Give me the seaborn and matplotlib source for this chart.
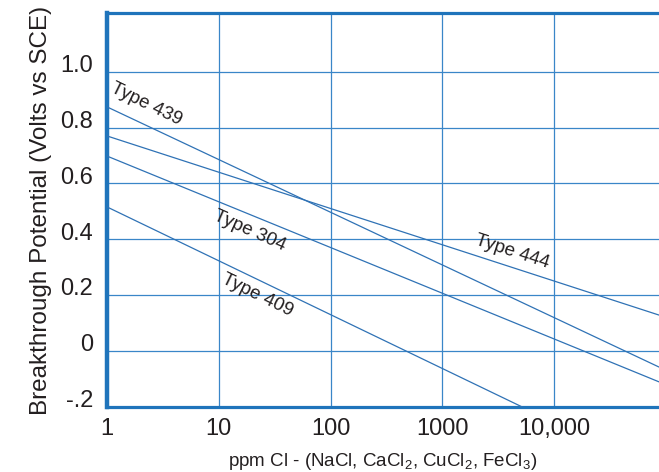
import pandas as pd
import numpy as np
import matplotlib.pyplot as plt
import matplotlib.transforms as mtransforms
import seaborn as sns

sns.set_theme(style='white')
plt.rcParams['font.family'] = ['Liberation Sans', 'DejaVu Sans']
plt.rcParams['mathtext.fontset'] = 'custom'
plt.rcParams['mathtext.rm'] = 'Liberation Sans'
plt.rcParams['mathtext.default'] = 'regular'

# values (ppm chloride vs breakthrough potential)
ppm_439 = [1, 87000]
volts_439 = [0.874, -0.057]
ppm_444 = [1, 87000]
volts_444 = [0.770, 0.129]
ppm_304 = [1, 87000]
volts_304 = [0.698, -0.110]
ppm_409 = [1, 5200]
volts_409 = [0.516, -0.200]

x_ticks = [1, 10, 100, 1000, 10000]
x_labels = ['1', '10', '100', '1000', '10,000']
y_ticks = [-0.2, 0, 0.2, 0.4, 0.6, 0.8, 1.0]
y_labels = ['-.2', '0', '0.2', '0.4', '0.6', '0.8', '1.0']

blue = '#1f74bb'
grid_blue = '#3a86c8'
line_blue = '#2f72b5'
text_col = '#231f20'

df = pd.concat([
    pd.DataFrame({'ppm': ppm_439, 'volts': volts_439, 'grade': 'Type 439'}),
    pd.DataFrame({'ppm': ppm_444, 'volts': volts_444, 'grade': 'Type 444'}),
    pd.DataFrame({'ppm': ppm_304, 'volts': volts_304, 'grade': 'Type 304'}),
    pd.DataFrame({'ppm': ppm_409, 'volts': volts_409, 'grade': 'Type 409'}),
])

fig = plt.figure(figsize=(6.59, 4.72), dpi=100)
ax = fig.add_axes([107 / 659, 1 - 407 / 472, 1 - 107 / 659, (407 - 13) / 472])

sns.lineplot(data=df, x='ppm', y='volts', units='grade', estimator=None,
             color=line_blue, linewidth=0.9, ax=ax, zorder=3)

ax.set_xscale('log')
ax.set_xlim(1, 87000)
ax.set_ylim(-0.2, 1.21)
ax.set_xticks(x_ticks)
ax.set_xticklabels(x_labels)
ax.minorticks_off()
ax.set_yticks(y_ticks)
ax.set_yticklabels(y_labels)
ax.grid(True, color=grid_blue, linewidth=0.9, alpha=1)
ax.tick_params(length=0, labelsize=17, labelcolor=text_col)
ax.tick_params(axis='x', pad=8)
ax.tick_params(axis='y', pad=10)

# y labels sit a little above their grid lines in the reference
shift = mtransforms.ScaledTranslation(0, 6 / 72, fig.dpi_scale_trans)
for lab in ax.get_yticklabels():
    lab.set_transform(lab.get_transform() + shift)

for side in ['left', 'top', 'bottom']:
    ax.spines[side].set_color(blue)
ax.spines['left'].set_linewidth(3.2)
ax.spines['top'].set_linewidth(2.3)
ax.spines['bottom'].set_linewidth(2.3)
ax.spines['right'].set_visible(False)

ax.set_ylabel('Breakthrough Potential (Volts vs SCE)', fontsize=17.5, color=text_col, labelpad=6)
ax.set_xlabel('ppm Cl - (NaCl, CaCl$_2$, CuCl$_2$, FeCl$_3$)', fontsize=13.5, color=text_col, labelpad=8)

ax.text(2.23, 0.885, 'Type 439', rotation=-26, ha='center', va='center', fontsize=13.5, color=text_col)
ax.text(19, 0.43, 'Type 304', rotation=-24, ha='center', va='center', fontsize=13.5, color=text_col)
ax.text(22, 0.20, 'Type 409', rotation=-26, ha='center', va='center', fontsize=13.5, color=text_col)
ax.text(4200, 0.355, 'Type 444', rotation=-18, ha='center', va='center', fontsize=13.5, color=text_col)

plt.savefig('out.png', dpi=100)
